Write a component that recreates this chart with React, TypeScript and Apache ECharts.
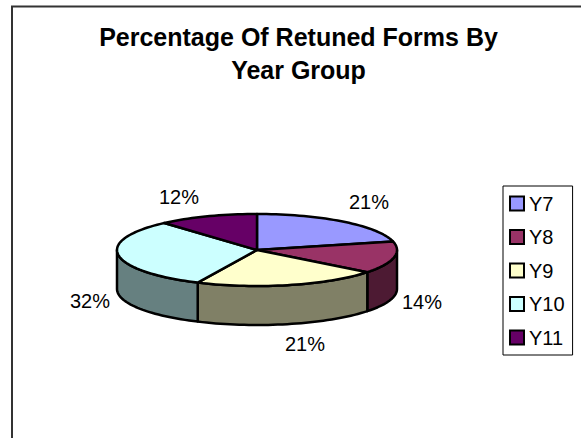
import React, { useEffect, useRef } from "react";
import * as echarts from "echarts";

const categories = ["Y7", "Y8", "Y9", "Y10", "Y11"];
const values = [21.16, 14.4, 21.4, 31.52, 11.52];
const topColors = ["#9999FF", "#993366", "#FFFFCC", "#CCFFFF", "#660066"];
const sideColors = ["#4D4D80", "#4D1A33", "#808066", "#668080", "#330033"];
const titleLines = "Percentage Of Retuned Forms By\nYear Group";

const FONT = '"Liberation Sans", Arial, sans-serif';
const CX = 257, CY = 250, RX = 140, RY = 36, DEPTH = 39;
const LABEL_POS: [number, number][] = [
  [369, 202], [422, 302], [305, 344], [90, 301], [179, 197],
];

const total = values.reduce((a, b) => a + b, 0);

function pt(deg: number, dy = 0): number[] {
  const r = (deg * Math.PI) / 180;
  return [CX + RX * Math.sin(r), CY - RY * Math.cos(r) + dy];
}
function arc(a: number, b: number, dy = 0): number[][] {
  const n = Math.max(2, Math.ceil(Math.abs(b - a) / 2));
  const out: number[][] = [];
  for (let i = 0; i <= n; i++) out.push(pt(a + ((b - a) * i) / n, dy));
  return out;
}

function App() {
  const ref = useRef<HTMLDivElement>(null);
  useEffect(() => {
    const chart = echarts.init(ref.current!, null, { renderer: "svg" });
    const stroke = { stroke: "#000", lineWidth: 2.5, lineJoin: "round" as const };
    let cum = 0;
    const spans = values.map((v) => {
      const s = (cum / total) * 360;
      cum += v;
      return [s, (cum / total) * 360];
    });
    const series = categories.map((name, idx) => ({
      type: "custom",
      name,
      coordinateSystem: "none",
      data: [values[idx]],
      itemStyle: { color: topColors[idx], borderColor: "#000", borderWidth: 2 },
      silent: true,
      renderItem: (_p: any, api: any) => {
        const [a, b] = spans[idx];
        const children: any[] = [];
        const sa = Math.max(a, 90), sb = Math.min(b, 270);
        if (sb > sa) {
          const pts = [...arc(sa, sb), ...arc(sb, sa, DEPTH)];
          children.push({
            type: "polygon",
            z2: 1,
            shape: { points: pts },
            style: { fill: sideColors[idx], ...stroke },
          });
        }
        children.push({
          type: "polygon",
          z2: 2,
          shape: { points: [[CX, CY], ...arc(a, b)] },
          style: { fill: topColors[idx], ...stroke },
        });
        children.push({
          type: "text",
          z2: 3,
          style: {
            x: LABEL_POS[idx][0],
            y: LABEL_POS[idx][1],
            text: `${Math.round((api.value(0) / total) * 100)}%`,
            fill: "#000",
            font: `20px ${FONT}`,
            align: "center",
            verticalAlign: "middle",
          },
        });
        return { type: "group", children };
      },
    }));
    chart.setOption({
      animation: false,
      backgroundColor: "#fff",
      title: {
        text: titleLines,
        left: 293.5,
        top: 15,
        textAlign: "center",
        textStyle: {
          fontFamily: FONT,
          fontSize: 25,
          fontWeight: "bold",
          color: "#000",
          lineHeight: 33,
        },
      },
      legend: {
        orient: "vertical",
        data: categories,
        left: 503,
        top: 186,
        padding: [6, 8, 6, 6],
        itemGap: 10.5,
        itemWidth: 14,
        itemHeight: 14,
        borderColor: "#000",
        borderWidth: 1,
        icon: "rect",
        selectedMode: false,
        textStyle: { fontFamily: FONT, fontSize: 20, color: "#000", padding: [0, 0, 0, 0], lineHeight: 23 },
      },
      series,
      graphic: [
        {
          type: "polyline",
          silent: true,
          shape: { points: [[12, 438], [12, 6.5], [581, 6.5]] },
          style: { stroke: "#333", lineWidth: 2, fill: "none" },
        },
      ],
    });
    return () => chart.dispose();
  }, []);
  return <div ref={ref} style={{ width: 581, height: 438, position: "absolute", left: 0, top: 0 }} />;
}

export default App;
